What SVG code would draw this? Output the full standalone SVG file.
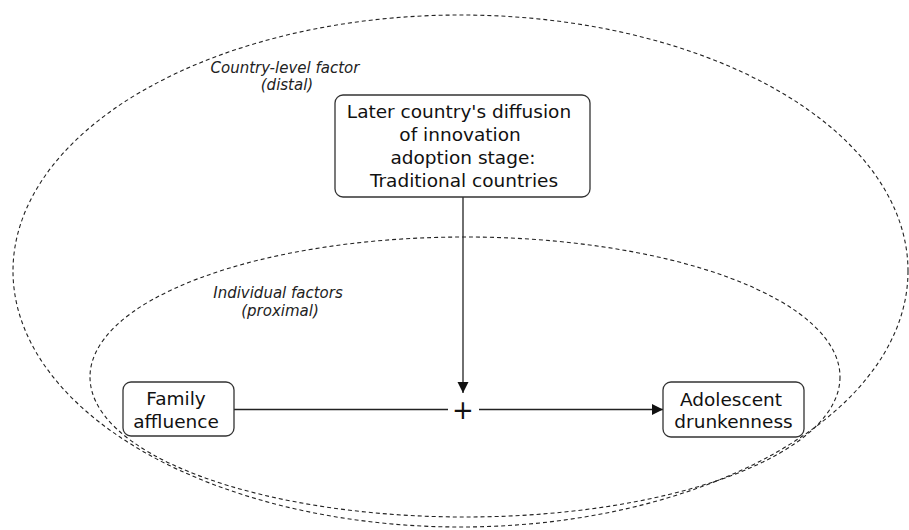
<svg xmlns="http://www.w3.org/2000/svg" width="909" height="530" viewBox="0 0 909 530">
<style>
.bg{fill:#fff}
.region{fill:none;stroke:#222;stroke-width:1.1;stroke-dasharray:4 3}
.box{fill:#fff;stroke:#333;stroke-width:1.3}
.t{font-family:"DejaVu Sans",Verdana,sans-serif;font-size:18.5px;fill:#111;text-anchor:middle}
.lab{font-family:"DejaVu Sans",Verdana,sans-serif;font-size:15px;font-style:italic;fill:#222;text-anchor:middle}
.edge{fill:none;stroke:#222;stroke-width:1.3}
.op{font-family:"DejaVu Sans",Verdana,sans-serif;font-size:26px;fill:#111;text-anchor:middle}
</style>
<defs>
<marker id="arr" markerWidth="12" markerHeight="12" refX="11" refY="5.5" orient="auto" markerUnits="userSpaceOnUse">
<path d="M0,0 L11,5.5 L0,11 Z" fill="#111"/>
</marker>
</defs>
<rect class="bg" x="0" y="0" width="909" height="530"/>
<g id="region-country">
<ellipse class="region" cx="460.5" cy="271" rx="447.5" ry="256"/>
<text class="lab" x="285" y="73">Country-level factor</text>
<text class="lab" x="287" y="90">(distal)</text>
</g>
<g id="region-individual">
<ellipse class="region" cx="465" cy="377" rx="375" ry="140"/>
<text class="lab" x="278" y="298">Individual factors</text>
<text class="lab" x="280" y="316">(proximal)</text>
</g>
<g id="connectors">
<line class="edge" x1="463" y1="197" x2="463" y2="393" marker-end="url(#arr)"/>
<line class="edge" x1="234" y1="409.5" x2="448" y2="409.5"/>
<line class="edge" x1="479" y1="409.5" x2="663" y2="409.5" marker-end="url(#arr)"/>
<text class="op" x="463" y="419">+</text>
</g>
<g id="node-country">
<rect class="box" x="335" y="95" width="255" height="102" rx="8" ry="8"/>
<text class="t" x="459" y="118">Later country's diffusion</text>
<text class="t" x="460" y="141">of innovation</text>
<text class="t" x="463" y="164">adoption stage:</text>
<text class="t" x="464" y="187">Traditional countries</text>
</g>
<g id="node-family">
<rect class="box" x="123" y="382" width="111" height="54" rx="8" ry="8"/>
<text class="t" x="176" y="405">Family</text>
<text class="t" x="176" y="428">affluence</text>
</g>
<g id="node-outcome">
<rect class="box" x="663" y="382" width="141" height="55" rx="8" ry="8"/>
<text class="t" x="731" y="406">Adolescent</text>
<text class="t" x="733.5" y="428">drunkenness</text>
</g>
</svg>
